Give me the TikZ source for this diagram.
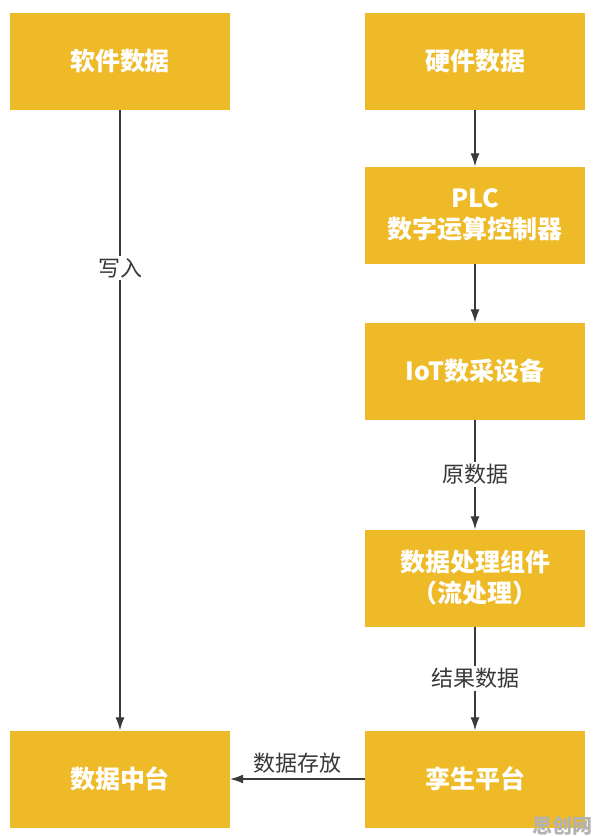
\documentclass[tikz,border=0pt]{standalone}
\usepackage{fontspec}
\setmainfont{Noto Sans CJK SC}
\usetikzlibrary{arrows.meta}
\definecolor{boxyellow}{HTML}{EEBA27}
\definecolor{linegray}{HTML}{3A3A3A}
\definecolor{labelgray}{HTML}{383838}
\tikzset{
  databox/.style = {
    fill=boxyellow,
    text=white,
    font=\bfseries\fontsize{25}{31}\selectfont,
    minimum width=220pt,
    minimum height=97pt,
    inner sep=0pt,
    align=center
  },
  flow/.style = {
    draw=linegray,
    line width=1.2pt,
    -{Latex[length=13pt,width=9pt]}
  },
  flowlabel/.style = {
    text=labelgray,
    font=\fontsize{22}{26}\selectfont,
    inner sep=2pt
  },
}

\begin{document}
\begin{tikzpicture}[x=1pt,y=-1pt]
  \pgfmathsetmacro{\leftx}{120};
  \pgfmathsetmacro{\rightx}{475};
  \useasboundingbox (0,0) rectangle (596,836);
  % boxes
  \node[databox] (soft)   at (\leftx,61)   {软件数据};
  \node[databox] (hard)   at (\rightx,61)  {硬件数据};
  \node[databox] (plc)    at (\rightx,215) {PLC\\数字运算控制器};
  \node[databox] (iot)    at (\rightx,371) {IoT数采设备};
  \node[databox] (stream) at (\rightx,578) {数据处理组件\\（流处理）};
  \node[databox] (twin)   at (\rightx,779) {孪生平台};
  \node[databox] (hub)    at (\leftx,779)  {数据中台};
  % arrows
  \draw[flow] (soft) -- node[flowlabel,fill=white,pos=0.255] {写入} (hub);
  \draw[flow] (hard) -- (plc);
  \draw[flow] (plc) -- (iot);
  \draw[flow] (iot) -- node[flowlabel,fill=white] {原数据} (stream);
  \draw[flow] (stream) -- node[flowlabel,fill=white] {结果数据} (twin);
  \draw[flow] (twin) -- node[flowlabel,above=3pt] {数据存放} (hub);
  % watermark
  \node[text=gray!60,font=\bfseries\fontsize{20}{22}\selectfont,inner sep=0pt] (mark) at (562,826) {思创网};
\end{tikzpicture}
\end{document}
